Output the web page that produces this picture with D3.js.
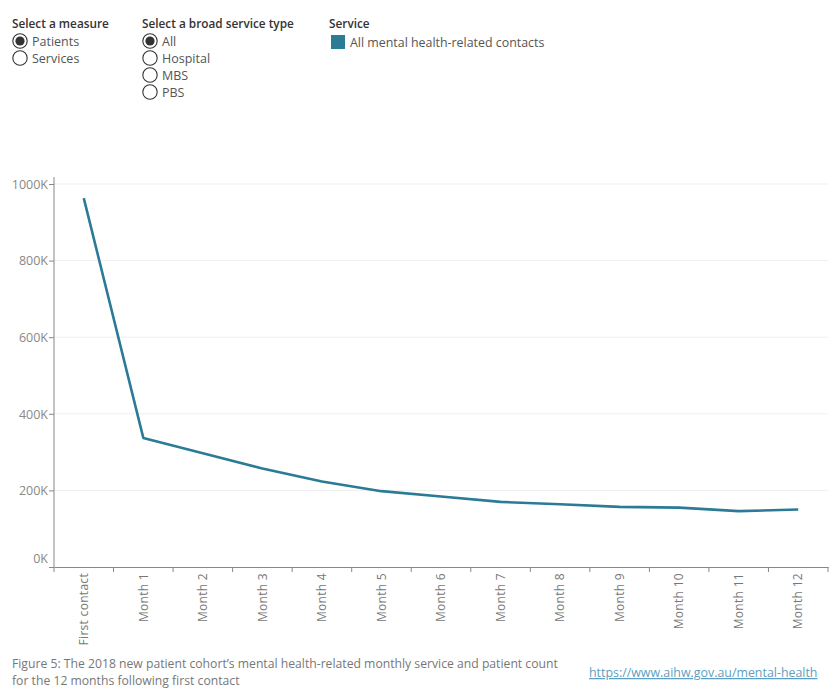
<!DOCTYPE html>
<html>
<head>
<meta charset="utf-8">
<script src="https://cdn.jsdelivr.net/npm/d3@7"></script>
<style>
  body { margin: 0; background: #fff; }
  svg { display: block; font-family: "Open Sans", "Noto Sans", sans-serif; }
</style>
</head>
<body>
<svg id="chart" width="839" height="700"></svg>
<script>
// data
const categories = ['First contact','Month 1','Month 2','Month 3','Month 4','Month 5','Month 6',
                    'Month 7','Month 8','Month 9','Month 10','Month 11','Month 12'];
const patients = [963000, 337000, 297000, 257000, 223000, 198000, 184000,
                  170000, 164000, 157000, 155000, 146000, 150000];
const yTicks = [0, 200000, 400000, 600000, 800000, 1000000];
const measures = ['Patients','Services'];
const serviceTypes = ['All','Hospital','MBS','PBS'];
const legendItems = ['All mental health-related contacts'];

const colour = '#2b7b97';
const svg = d3.select('#chart');

// --- filter controls ---
const radioGroup = (x, title, items, selected) => {
    const g = svg.append('g').attr('transform', `translate(${x},0)`);
    g.append('text').attr('x', 0).attr('y', 28)
        .attr('font-size', 11.8).attr('font-weight', 600).attr('fill', '#333')
        .text(title);
    items.forEach((d, i) => {
        const cy = 41 + i * 17;
        g.append('circle').attr('cx', 8).attr('cy', cy).attr('r', 7.2)
            .attr('fill', '#fff').attr('stroke', '#333').attr('stroke-width', 1.1);
        if (d === selected)
            g.append('circle').attr('cx', 8).attr('cy', cy).attr('r', 4.6).attr('fill', '#333');
        g.append('text').attr('x', 20).attr('y', cy + 4.5)
            .attr('font-size', 12.5).attr('fill', '#555').text(d);
    });
};
radioGroup(12, 'Select a measure', measures, 'Patients');
radioGroup(142, 'Select a broad service type', serviceTypes, 'All');

const legend = svg.append('g').attr('transform', 'translate(329,0)');
legend.append('text').attr('x', 0).attr('y', 28)
    .attr('font-size', 11.8).attr('font-weight', 600).attr('fill', '#333').text('Service');
legendItems.forEach((d, i) => {
    legend.append('rect').attr('x', 2).attr('y', 35 + i * 17).attr('width', 14).attr('height', 14)
        .attr('fill', colour);
    legend.append('text').attr('x', 21).attr('y', 47 + i * 17)
        .attr('font-size', 12.4).attr('fill', '#555').text(d);
});

// --- chart ---
const plotLeft = 54, plotRight = 828, plotTop = 184, plotBottom = 567;

const x = d3.scaleBand().domain(categories).range([plotLeft, plotRight]);
const y = d3.scaleLinear().domain([0, 1000000]).range([plotBottom, plotTop]);

// gridlines
svg.append('g')
    .selectAll('line')
    .data(yTicks.filter(d => d > 0))
    .join('line')
    .attr('x1', plotLeft).attr('x2', plotRight)
    .attr('y1', d => y(d)).attr('y2', d => y(d))
    .attr('stroke', '#efefef').attr('stroke-width', 1);

// y axis
const yAxis = svg.append('g')
    .attr('transform', `translate(${plotLeft},0)`)
    .call(d3.axisLeft(y).tickValues(yTicks).tickSize(5).tickSizeOuter(0)
        .tickFormat(d => (d / 1000) + 'K'));
yAxis.select('.domain').attr('stroke', '#888').attr('d', `M0,${plotTop - 7}V${plotBottom}`);
yAxis.selectAll('.tick line').attr('stroke', '#888');
yAxis.selectAll('.tick text')
    .attr('fill', '#888').attr('font-size', 12.5).attr('x', -6)
    .attr('font-family', '"Open Sans", sans-serif')
    .attr('dy', d => d === 0 ? '-0.4em' : '0.35em');

// x axis
const xAxis = svg.append('g')
    .attr('transform', `translate(0,${plotBottom})`)
    .call(d3.axisBottom(x).tickSize(0).tickSizeOuter(0));
xAxis.select('.domain').attr('stroke', '#888');
xAxis.selectAll('.tick text')
    .attr('fill', '#777').attr('font-size', 12)
    .attr('letter-spacing', 0.3)
    .attr('font-family', '"Open Sans", sans-serif')
    .attr('transform', 'rotate(-90)')
    .attr('text-anchor', 'end')
    .attr('x', -6).attr('y', 0).attr('dy', '0.35em');
// band boundary ticks
svg.append('g')
    .selectAll('line')
    .data(categories.map(c => x(c)).concat([plotRight]))
    .join('line')
    .attr('x1', d => d).attr('x2', d => d)
    .attr('y1', plotBottom).attr('y2', plotBottom + 5)
    .attr('stroke', '#888');

// line
const line = d3.line()
    .x((d, i) => x(categories[i]) + x.bandwidth() / 2)
    .y(d => y(d));
svg.append('path')
    .datum(patients)
    .attr('d', line)
    .attr('fill', 'none')
    .attr('stroke', colour)
    .attr('stroke-width', 2.6)
    .attr('stroke-linejoin', 'round');

// --- footer ---
svg.append('text').attr('x', 12).attr('y', 668).attr('font-size', 12.2).attr('fill', '#777')
    .text('Figure 5: The 2018 new patient cohort\u2019s mental health-related monthly service and patient count');
svg.append('text').attr('x', 12).attr('y', 685).attr('font-size', 12.2).attr('fill', '#777')
    .text('for the 12 months following first contact');
svg.append('text').attr('x', 589).attr('y', 677).attr('font-size', 12.4).attr('fill', '#5b9fc0')
    .attr('text-decoration', 'underline')
    .text('https://www.aihw.gov.au/mental-health');
</script>
</body>
</html>
